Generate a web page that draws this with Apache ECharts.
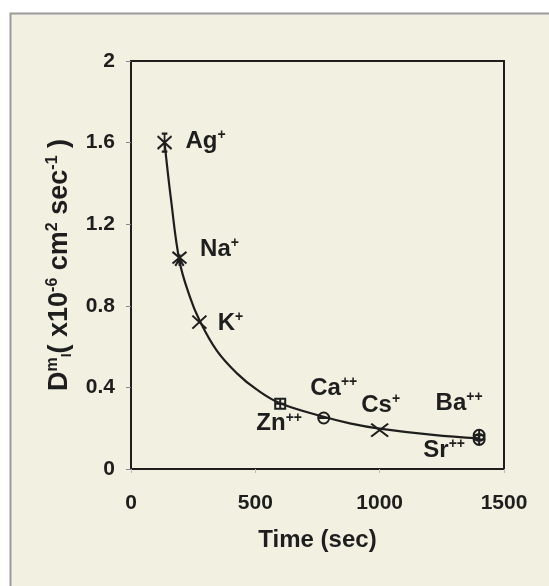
<!DOCTYPE html>
<html>
<head>
<meta charset="utf-8">
<script src="https://cdn.jsdelivr.net/npm/echarts@6/dist/echarts.min.js"></script>
<style>
  html, body { margin: 0; padding: 0; background: #fff; }
  #chart { width: 549px; height: 586px; }
</style>
</head>
<body>
<div id="chart"></div>
<script>
// ions: name, time (sec), diffusion coefficient (x10^-6 cm2/sec)
const ionNames = ['Ag', 'Na', 'K', 'Zn', 'Ca', 'Cs', 'Ba', 'Sr'];
const ionCharge = ['+', '+', '+', '++', '++', '+', '++', '++'];
const ionTime = [135, 195, 275, 600, 775, 1000, 1400, 1400];
const ionD = [1.6, 1.03, 0.72, 0.32, 0.25, 0.19, 0.165, 0.145];

// fitted curve
const curveTime = [135, 161, 195, 235, 275, 345, 425, 505, 600, 775, 880, 1000, 1215, 1400];
const curveD = [1.6, 1.32, 1.02, 0.85, 0.73, 0.58, 0.47, 0.39, 0.322, 0.256, 0.224, 0.198, 0.167, 0.15];

const xTicks = [0, 500, 1000, 1500];
const yTicks = [0, 0.4, 0.8, 1.2, 1.6, 2];

// ===== marker shapes / label placement =====
const X_PATH = 'path://M0,0L10,10M10,0L0,10';
const markerStyle = {
  Ag: { symbol: 'path://M0,2L10,12M10,2L0,12M5,0L5,14M3,0L7,0M3,14L7,14', size: [14, 18], label: [41, -1] },
  Na: { symbol: 'path://M0,0L10,10M10,0L0,10M5,2L5,12M2,12L5,6L8,12', size: [14, 14], label: [40, -10] },
  K:  { symbol: X_PATH, size: [14, 13], label: [31, 1] },
  Zn: { symbol: 'path://M1,1L9,1L9,9L1,9ZM5,1L5,9M1,5L9,5', size: [10, 10], label: [-1, 20] },
  Ca: { symbol: 'path://M0,5A5,5,0,1,1,10,5A5,5,0,1,1,0,5ZM0,5L10,5', size: [11, 11], label: [10, -30] },
  Cs: { symbol: X_PATH, size: [17, 13], label: [1, -25] },
  Ba: { symbol: 'path://M0,5A5,5,0,1,1,10,5A5,5,0,1,1,0,5ZM0,5L10,5M5,0L5,10', size: [11, 11], label: [-20, -32] },
  Sr: { symbol: 'path://M0,5A5,5,0,1,1,10,5A5,5,0,1,1,0,5ZM0,5L10,5M5,0L5,10', size: [11, 11], label: [-35, 11] }
};

const FONT = '"Liberation Sans", Arial, sans-serif';
const INK = '#1e1e1e';
const BG = '#f2f0e1';

const labelRich = {
  b: { fontFamily: FONT, fontWeight: 'bold', fontSize: 24, color: INK },
  s: { fontFamily: FONT, fontWeight: 'bold', fontSize: 14, color: INK, padding: [0, 0, 12, 0] }
};

const ionData = ionNames.map((n, i) => {
  const st = markerStyle[n];
  return {
    name: n,
    value: [ionTime[i], ionD[i]],
    symbol: st.symbol,
    symbolSize: st.size,
    label: {
      show: true,
      position: 'inside',
      offset: st.label,
      color: INK,
      textBorderWidth: 0,
      formatter: '{b|' + n + '}{s|' + ionCharge[i] + '}',
      rich: labelRich
    }
  };
});

const chart = echarts.init(document.getElementById('chart'), null, { renderer: 'canvas' });

chart.setOption({
  backgroundColor: '#fff',
  animation: false,
  graphic: [{
    type: 'rect',
    z: -10,
    shape: { x: 10.5, y: 13.5, width: 600, height: 600 },
    style: { fill: BG, stroke: '#9a9a9a', lineWidth: 2 }
  }],
  grid: {
    left: 131, top: 61, width: 373, height: 408,
    show: true, borderColor: INK, borderWidth: 2, backgroundColor: BG
  },
  xAxis: {
    type: 'value', min: 0, max: 1500, interval: 500,
    name: 'Time (sec)', nameLocation: 'middle', nameGap: 59,
    nameTextStyle: { fontFamily: FONT, fontWeight: 'bold', fontSize: 24, color: INK },
    axisLine: { lineStyle: { color: INK, width: 2 } },
    axisTick: { show: true, length: 4, lineStyle: { color: '#bbb' } },
    splitLine: { show: false },
    axisLabel: {
      margin: 24, fontFamily: FONT, fontWeight: 'bold', fontSize: 21, color: INK,
      formatter: v => xTicks.includes(v) ? String(v) : ''
    }
  },
  yAxis: {
    type: 'value', min: 0, max: 2, interval: 0.4,
    name: '{b|D}{s|m}{sub|I}{b|( x10}{s|-6}{b| cm}{s|2}{b| sec}{s|-1}{b| )}',
    nameLocation: 'middle', nameGap: 56,
    nameTextStyle: {
      rich: {
        b: { fontFamily: FONT, fontWeight: 'bold', fontSize: 27, color: INK },
        s: { fontFamily: FONT, fontWeight: 'bold', fontSize: 16, color: INK, padding: [0, 0, 14, 0] },
        sub: { fontFamily: FONT, fontWeight: 'bold', fontSize: 14, color: INK, padding: [15, 0, 0, 0] }
      }
    },
    axisLine: { lineStyle: { color: INK, width: 2 } },
    axisTick: { show: true, length: 5, lineStyle: { color: '#888' } },
    splitLine: { show: false },
    axisLabel: {
      margin: 16, fontFamily: FONT, fontWeight: 'bold', fontSize: 21, color: INK,
      formatter: v => {
        const t = yTicks.find(y => Math.abs(y - v) < 1e-6);
        return t === undefined ? '' : String(t);
      }
    }
  },
  series: [
    {
      type: 'line',
      data: curveTime.map((t, i) => [t, curveD[i]]),
      smooth: 0.4,
      showSymbol: false,
      lineStyle: { color: INK, width: 2.2 },
      z: 2
    },
    {
      type: 'scatter',
      data: ionData,
      itemStyle: { color: 'none', borderColor: INK, borderWidth: 2, opacity: 1 },
      z: 3
    }
  ]
});
</script>
</body>
</html>
